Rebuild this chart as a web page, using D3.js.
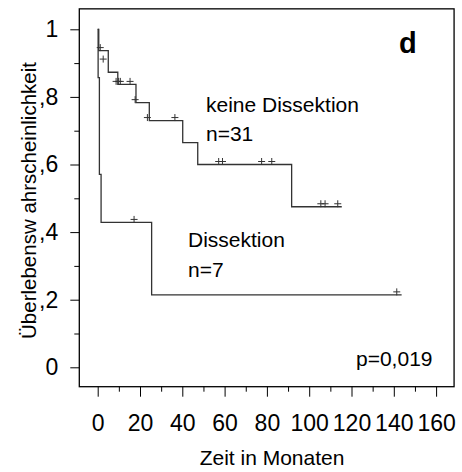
<!DOCTYPE html>
<html><head><meta charset="utf-8">
<script src="https://cdn.jsdelivr.net/npm/d3@7"></script>
<style>body{margin:0;background:#fff}svg{display:block}</style>
</head><body>
<svg id="c" width="462" height="472"></svg>
<script>
// Kaplan-Meier steps: [time in months, survival after this time]
const keineSteps = [[0,1],[0.5,0.937],[5,0.873],[9.5,0.837],[18.1,0.783],[24.4,0.730],[40.2,0.665],[47.3,0.600],[91.7,0.475],[115.4,0.475]];
const keineCensor = [[1.2,0.937],[2.6,0.903],[8.7,0.837],[9.9,0.837],[10.7,0.837],[15.3,0.837],[17.7,0.783],[23.5,0.730],[36.5,0.730],[57.2,0.600],[59.0,0.600],[77.5,0.600],[82.3,0.600],[105.5,0.475],[107.5,0.475],[113.5,0.475]];
const dissSteps = [[0,1],[0.2,0.857],[0.8,0.571],[1.6,0.4286],[25.5,0.2143],[143.7,0.2143]];
const dissCensor = [[17.2,0.4286],[141.4,0.2143]];
const xTicks = [0,20,40,60,80,100,120,140,160];
const yTicks = [0,0.2,0.4,0.6,0.8,1];
const yTickLabels = ["0",",2",",4",",6",",8","1"];
const labels = {x:"Zeit in Monaten", y:"Überlebensw ahrscheinlichkeit", panel:"d", p:"p=0,019",
  keine:["keine Dissektion","n=31"], diss:["Dissektion","n=7"]};

const svg = d3.select("#c");
const font = "'Liberation Sans', Arial, sans-serif";
const x = d3.scaleLinear().domain([0,160]).range([97.7,436.1]);
const y = d3.scaleLinear().domain([0,1]).range([367.3,29.3]);
const frame = {l:x(-8.7), r:x(168.5), t:y(1.0605), b:y(-0.0574)};

// frame
svg.append("rect").attr("x",frame.l).attr("y",frame.t).attr("width",frame.r-frame.l).attr("height",frame.b-frame.t)
  .attr("fill","none").attr("stroke","#000").attr("stroke-width",1.3);

// y axis ticks
const yLab = new Map(yTicks.map((v,i)=>[v,yTickLabels[i]]));
const yAxis = d3.axisLeft(y).tickValues(yTicks).tickSize(9).tickPadding(12)
  .tickFormat(d=>yLab.get(d));
const gy = svg.append("g").attr("transform",`translate(${frame.l},0)`).call(yAxis);
gy.select(".domain").remove();
gy.selectAll("text").attr("font-family",font).attr("font-size",23).attr("fill","#000");
gy.selectAll("line").attr("stroke","#000");
const gym = svg.append("g").attr("transform",`translate(${frame.l},0)`)
  .call(d3.axisLeft(y).tickValues([0.1,0.3,0.5,0.7,0.9]).tickSize(5).tickFormat(""));
gym.select(".domain").remove(); gym.selectAll("line").attr("stroke","#000");

// x axis ticks
const gx = svg.append("g").attr("transform",`translate(0,${frame.b})`)
  .call(d3.axisBottom(x).tickValues(xTicks).tickSize(10).tickPadding(18));
gx.select(".domain").remove();
gx.selectAll("text").attr("font-family",font).attr("font-size",23).attr("fill","#000");
gx.selectAll("line").attr("stroke","#000");
const gxm = svg.append("g").attr("transform",`translate(0,${frame.b})`)
  .call(d3.axisBottom(x).tickValues([10,30,50,70,90,110,130,150]).tickSize(5).tickFormat(""));
gxm.select(".domain").remove(); gxm.selectAll("line").attr("stroke","#000");

// curves
const line = d3.line().x(d=>x(d[0])).y(d=>y(d[1])).curve(d3.curveStepAfter);
[keineSteps, dissSteps].forEach(s=>{
  svg.append("path").attr("d",line(s)).attr("fill","none").attr("stroke","#333").attr("stroke-width",1.3);
});
// censor marks
[...keineCensor, ...dissCensor].forEach(c=>{
  const cx = x(c[0]), cy = y(c[1]) - 3;
  svg.append("path").attr("d",`M${cx-3.5},${cy}H${cx+3.5}M${cx},${cy-3.5}V${cy+3.5}`)
    .attr("stroke","#333").attr("stroke-width",1).attr("fill","none");
});

// texts
const txt = (s,xx,yy,opt={}) => svg.append("text").text(s).attr("x",xx).attr("y",yy)
  .attr("font-family",font).attr("font-size",opt.size||21).attr("font-weight",opt.w||"normal")
  .attr("text-anchor",opt.a||"start").attr("fill","#000");
txt(labels.keine[0],206,111.5);
txt(labels.keine[1],206,140.5);
txt(labels.diss[0],188,247);
txt(labels.diss[1],188,276.5);
txt(labels.p,356,366);
txt(labels.panel,399,53,{size:29,w:"bold"});
txt(labels.x,272,465,{a:"middle"});
svg.append("text").text(labels.y).attr("transform","translate(36,200.5) rotate(-90)")
  .attr("text-anchor","middle").attr("font-family",font).attr("font-size",20.5).attr("fill","#000");
</script>
</body></html>
